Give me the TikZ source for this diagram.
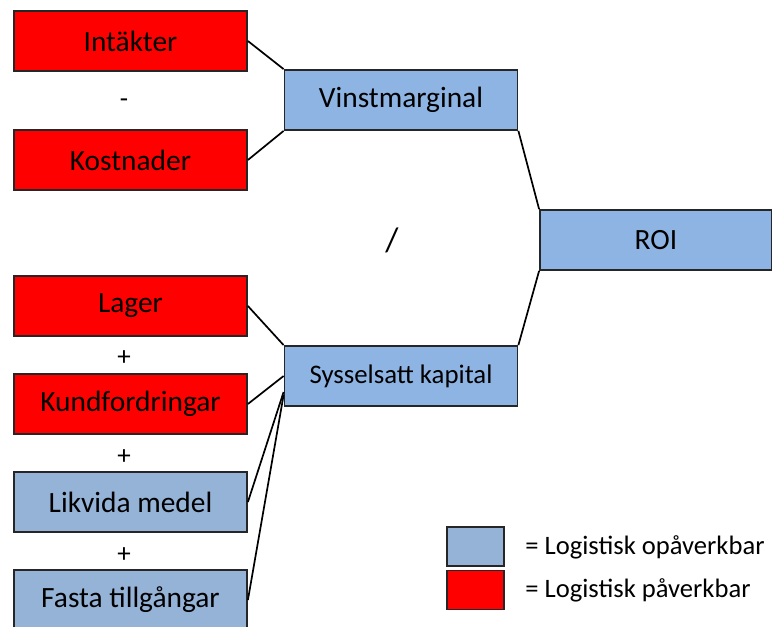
\documentclass[tikz,border=0pt]{standalone}
\usepackage{fontspec}
\setmainfont{Carlito}
\definecolor{roiblue}{HTML}{8EB4E3}
\definecolor{logblue}{HTML}{95B3D7}
\tikzset{
  box/.style={draw=black!85, line width=0.9pt, minimum width=116.5pt, minimum height=30pt, inner sep=0pt, font=\fontsize{14.7}{17}\selectfont},
  redbox/.style={box, fill=red},
  bluebox/.style={box, fill=roiblue},
  logbox/.style={box, fill=logblue},
  sign/.style={inner sep=0pt, font=\fontsize{13.5}{15}\selectfont},
  keybox/.style={draw=black!85, line width=0.9pt, minimum width=28.5pt, minimum height=19.5pt, inner sep=0pt},
  keytext/.style={anchor=west, inner sep=0pt, font=\fontsize{13.3}{15}\selectfont},
  link/.style={line width=0.85pt}
}
\begin{document}
\begin{tikzpicture}[x=0.5pt, y=-0.5pt]
  \useasboundingbox (0,0) rectangle (772,627);
  % vinstmarginal
  \node [redbox] (int) at (130.5,41) {Intäkter};
  \node [sign] (minus) at (124,103) {-};
  \node [redbox] (kost) at (130.5,160) {Kostnader};
  \node [bluebox] (vinst) at (401,100) {Vinstmarginal};
  % roi
  \node [bluebox, minimum width=116pt] (roi) at (656,240) {ROI};
  \node [sign, font=\fontsize{17}{19}\selectfont] (slash) at (392,240) {/};
  % kapital
  \node [redbox] (lager) at (130.5,306) {Lager};
  \node [sign] (plusa) at (124,358) {+};
  \node [redbox] (kund) at (130.5,404) {Kundfordringar};
  \node [sign] (plusb) at (124,457) {+};
  \node [logbox] (likv) at (130.5,502) {Likvida medel};
  \node [sign] (plusc) at (124,555) {+};
  \node [logbox] (fasta) at (130.5,600) {Fasta tillgångar};
  \node [bluebox, font=\fontsize{13.4}{16}\selectfont] (syss) at (401,376) {Sysselsatt kapital};
  \coordinate (sa) at ([yshift=-8pt]syss.west);
  \coordinate (sb) at ([yshift=-9.5pt]syss.west);
  % connectors
  \draw [link] (int.east) -- (vinst.north west);
  \draw [link] (kost.east) -- (vinst.south west);
  \draw [link] (vinst.south east) -- (roi.north west);
  \draw [link] (syss.north east) -- (roi.south west);
  \draw [link] (lager.east) -- (syss.north west);
  \draw [link] (kund.east) -- (syss.west);
  \draw [link] (likv.east) -- (sa);
  \draw [link] (fasta.east) -- (sb);
  % legend
  \node [keybox, fill=logblue] (keya) at (475.5,546.5) {};
  \node [keybox, fill=red] (keyb) at (475.5,590) {};
  \node [keytext] (texta) at (525,547) {= Logistisk opåverkbar};
  \node [keytext] (textb) at (525,590) {= Logistisk påverkbar};
\end{tikzpicture}
\end{document}
